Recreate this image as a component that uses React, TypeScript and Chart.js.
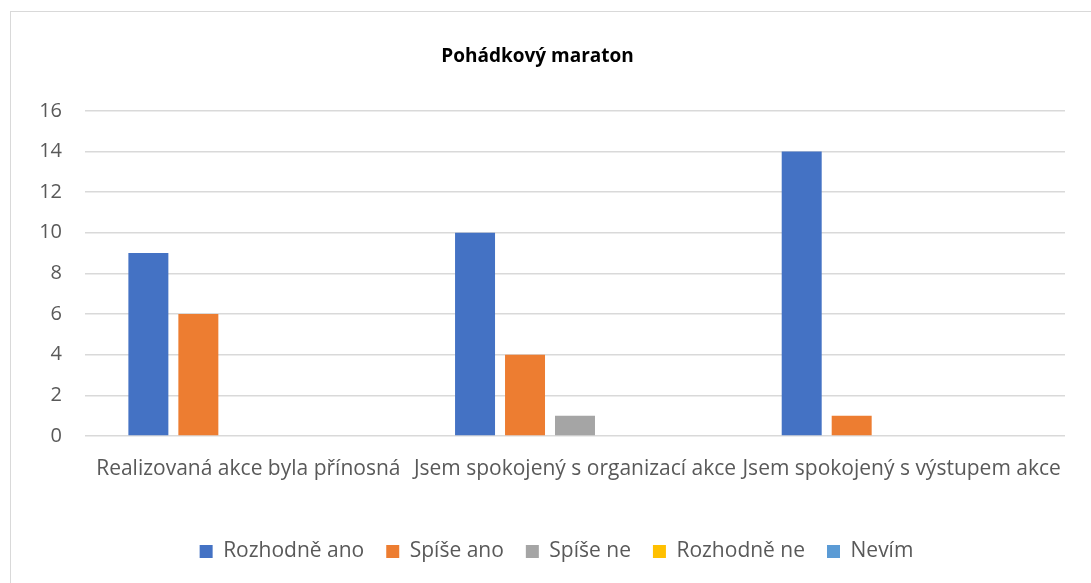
import React, { useEffect, useRef } from "react";
import { Chart, registerables } from "chart.js";

Chart.register(...registerables);

const chartTitle = "Pohádkový maraton";
const categories = [
  "Realizovaná akce byla přínosná",
  "Jsem spokojený s organizací akce",
  "Jsem spokojený s výstupem akce",
];
const seriesNames = ["Rozhodně ano", "Spíše ano", "Spíše ne", "Rozhodně ne", "Nevím"];
const rozhodneAno = [9, 10, 14];
const spiseAno = [6, 4, 1];
const spiseNe = [0, 1, 0];
const rozhodneNe = [0, 0, 0];
const nevim = [0, 0, 0];
const seriesColors = ["#4472C4", "#ED7D31", "#A5A5A5", "#FFC000", "#5B9BD5"];
const yTicks = [0, 2, 4, 6, 8, 10, 12, 14, 16];

const FONT = "'Open Sans', sans-serif";
const TEXT = "#595959";

const borderPlugin = {
  id: "outerBorder",
  beforeDraw(chart: any) {
    const ctx = chart.ctx;
    ctx.save();
    ctx.fillStyle = "#ffffff";
    ctx.fillRect(0, 0, chart.width, chart.height);
    ctx.strokeStyle = "#d9d9d9";
    ctx.lineWidth = 1;
    ctx.strokeRect(10.5, 11.5, chart.width + 20, chart.height + 20);
    ctx.restore();
  },
  afterLayout(chart: any) {
    const lg = chart.legend;
    if (lg) {
      lg.left += 19;
      lg.right += 19;
    }
  },
};

export default function App() {
  const ref = useRef<HTMLCanvasElement | null>(null);
  useEffect(() => {
    if (!ref.current) return;
    const values = [rozhodneAno, spiseAno, spiseNe, rozhodneNe, nevim];
    const chart = new Chart(ref.current, {
      type: "bar",
      data: {
        labels: categories,
        datasets: seriesNames.map((name, i) => ({
          label: name,
          data: values[i],
          backgroundColor: seriesColors[i],
          borderWidth: 0,
          categoryPercentage: 0.765,
          barPercentage: 0.8,
        })),
      },
      options: {
        responsive: false,
        animation: false,
        layout: { padding: { left: 10, right: 26, top: 12, bottom: 11 } },
        plugins: {
          title: {
            display: true,
            text: chartTitle,
            color: "#000000",
            font: { family: FONT, size: 19, weight: "bold" },
            padding: { top: 33, bottom: 43 },
          },
          legend: {
            position: "bottom",
            labels: {
              color: TEXT,
              font: { family: FONT, size: 21 },
              boxWidth: 13,
              boxHeight: 13,
              padding: 22,
            },
          },
          tooltip: { enabled: false },
        },
        scales: {
          x: {
            grid: { display: false, drawTicks: false },
            border: { display: false },
            ticks: {
              color: TEXT,
              font: { family: FONT, size: 21 },
              maxRotation: 0,
              autoSkip: false,
              padding: 20,
            },
            afterFit: (scale: any) => {
              scale.height = 83;
            },
          },
          y: {
            min: 0,
            max: 16,
            afterBuildTicks: (scale: any) => {
              scale.ticks = yTicks.map((v) => ({ value: v }));
            },
            grid: { color: "#d9d9d9", lineWidth: 1.5, drawTicks: false },
            border: { display: false },
            ticks: {
              color: TEXT,
              font: { family: FONT, size: 20 },
              padding: 23,
            },
            afterFit: (scale: any) => {
              scale.width = 75;
            },
          },
        },
      },
      plugins: [borderPlugin],
    });
    return () => chart.destroy();
  }, []);
  return (
    <div style={{ position: "fixed", left: 0, top: 0, width: 1091, height: 583 }}>
      <canvas ref={ref} width={1091} height={583} />
    </div>
  );
}
